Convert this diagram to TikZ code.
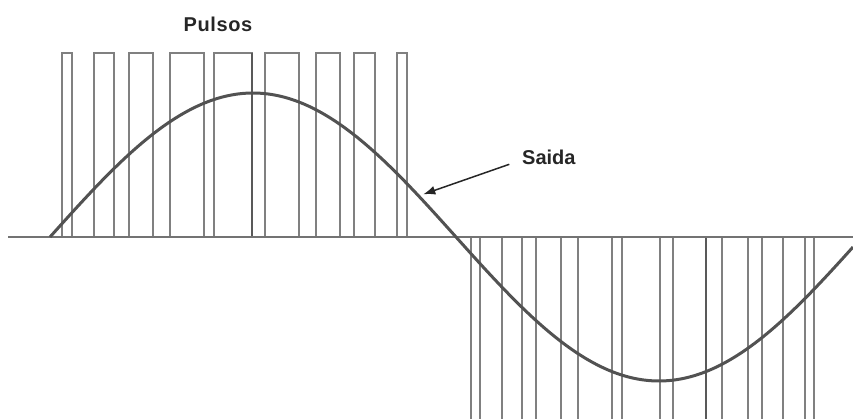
\documentclass[tikz,border=0pt]{standalone}
\usepackage{fontspec}
\setmainfont{Liberation Sans}
\usetikzlibrary{arrows.meta}
\begin{document}
\begin{tikzpicture}[x=1pt,y=-1pt,
  pulse/.style={draw=black!50,line width=1.8pt},
  centerline/.style={draw=black!65,line width=2.2pt},
  axisline/.style={draw=black!55,line width=1.8pt},
  wave/.style={draw=black!68,line width=3pt},
  label/.style={font=\fontsize{20}{24}\selectfont\bfseries,text=black!85,inner sep=0pt}]
\useasboundingbox (0,0) rectangle (853,419);
% positive pulses
\foreach \a/\b in {62.3/72,94.3/114.3,128.7/153.3,170/204,214.3/252,265/298.7,315.7/340,354.3/374.7,397/406.7}
  \draw[pulse] (\a,237) rectangle (\b,53);
\draw[centerline] (252,53) -- (252,237);
% negative pulses
\foreach \x in {470.7,480,502.3,522.3,536,561,578.3,612,622.3,660,672.7,722.3,747.7,762.3,782.7,805,814.3}
  \draw[pulse] (\x,237) -- (\x,419);
\draw[centerline] (705.7,237) -- (705.7,419);
% axis
\draw[axisline] (8,237) -- (853,237);
% output wave
\draw[wave] plot[domain=50:853,samples=240,smooth] (\x,{237-144*sin((\x-50)/406*180)});
% labels
\node[label,anchor=base] (pulsos) at (218,32) {\addfontfeatures{LetterSpace=3}Pulsos};
\node[label,anchor=base west] (saida) at (522,164.3) {Saida};
\coordinate (tail) at (509.3,164.3);
\coordinate (tip) at (423.3,194.3);
\draw[line width=1.5pt,black!85,-{Latex[length=12pt,width=9pt]}] (tail) -- (tip);
\end{tikzpicture}
\end{document}
